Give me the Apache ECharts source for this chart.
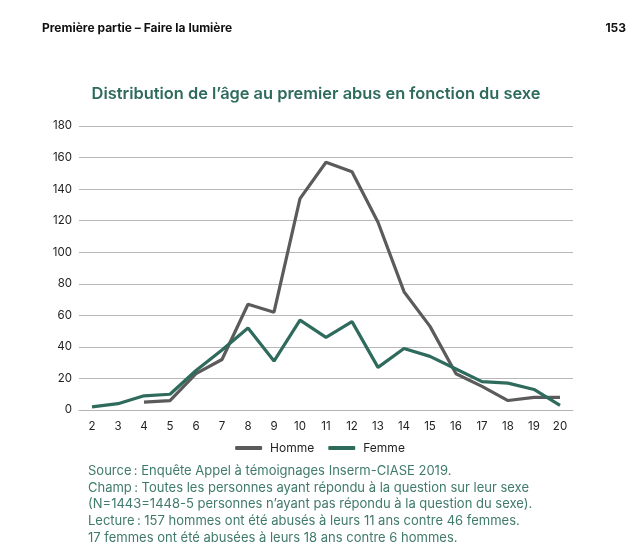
<!DOCTYPE html>
<html><head><meta charset="utf-8">
<script src="https://cdn.jsdelivr.net/npm/echarts@6/dist/echarts.min.js"></script>
<style>html,body{margin:0;padding:0;background:#fff;}#c{width:640px;height:553px;}</style>
</head><body><div id="c"></div>
<script>
const ages = ['2','3','4','5','6','7','8','9','10','11','12','13','14','15','16','17','18','19','20'];
const homme = [null,null,5,6,23,32,67,62,134,157,151,119,75,53,23,15,6,8,8];
const femme = [2,4,9,10,25,38,52,31,57,46,56,27,39,34,26,18,17,13,3];
const yTicks = [0,20,40,60,80,100,120,140,160,180];
const notes = [
  'Source\u202F: Enquête Appel à témoignages Inserm-CIASE 2019.',
  'Champ\u202F: Toutes les personnes ayant répondu à la question sur leur sexe',
  '(N=1443=1448-5 personnes n\u2019ayant pas répondu à la question du sexe).',
  'Lecture\u202F: 157 hommes ont été abusés à leurs 11 ans contre 46 femmes.',
  '17 femmes ont été abusées à leurs 18 ans contre 6 hommes.'
];
const grey = '#5b5b5b', green = '#2f6b5c', textGreen = '#3f7a6b';
const chart = echarts.init(document.getElementById('c'));
const font = 'Inter, Roboto, sans-serif';
chart.setOption({
  animation: false,
  textStyle: {fontFamily: font},
  graphic: [
    {type:'text', left:42, top:22, style:{text:'Première partie – Faire la lumière', font:'bold 12px ' + font, fill:'#111'}},
    {type:'text', right:14, top:22, style:{text:'153', font:'bold 12px ' + font, fill:'#111'}},
    {type:'text', left:88, top:463, style:{text:notes.join('\n'), font:'13px ' + font, fill:textGreen, lineHeight:16.6}}
  ],
  title: {text:'Distribution de l\u2019âge au premier abus en fonction du sexe', left:311, textAlign:'center', top:81,
    textStyle:{color:green, fontSize:16.4, fontWeight:'600', fontFamily:font}},
  legend: {bottom:94, left:'center', itemWidth:27, itemHeight:4, itemGap:14,
    textStyle:{color:'#222', fontSize:12, fontFamily:font, padding:[0,0,0,3]},
    data:[{name:'Homme', icon:'roundRect'},{name:'Femme', icon:'roundRect'}]},
  grid: {left:79, right:67, top:126, bottom:143, containLabel:false},
  xAxis: {type:'category', data:ages, boundaryGap:true,
    axisLine:{show:true, lineStyle:{color:'#b5b5b5'}}, axisTick:{show:false},
    axisLabel:{color:'#222', fontSize:11.5, margin:11, fontFamily:font}},
  yAxis: {type:'value', min:0, max:180, interval:20,
    axisLine:{show:false}, axisTick:{show:false},
    axisLabel:{color:'#222', fontSize:11.5, margin:7, fontFamily:font,
      formatter:(v)=> yTicks.includes(v) ? String(v) : ''},
    splitLine:{lineStyle:{color:'#b8b8b8', width:1}}},
  series: [
    {name:'Homme', type:'line', data:homme, showSymbol:false, symbol:'none', connectNulls:false,
      lineStyle:{color:grey, width:3.2}, itemStyle:{color:grey}},
    {name:'Femme', type:'line', data:femme, showSymbol:false, symbol:'none',
      lineStyle:{color:green, width:3.2}, itemStyle:{color:green}}
  ]
});
</script></body></html>
